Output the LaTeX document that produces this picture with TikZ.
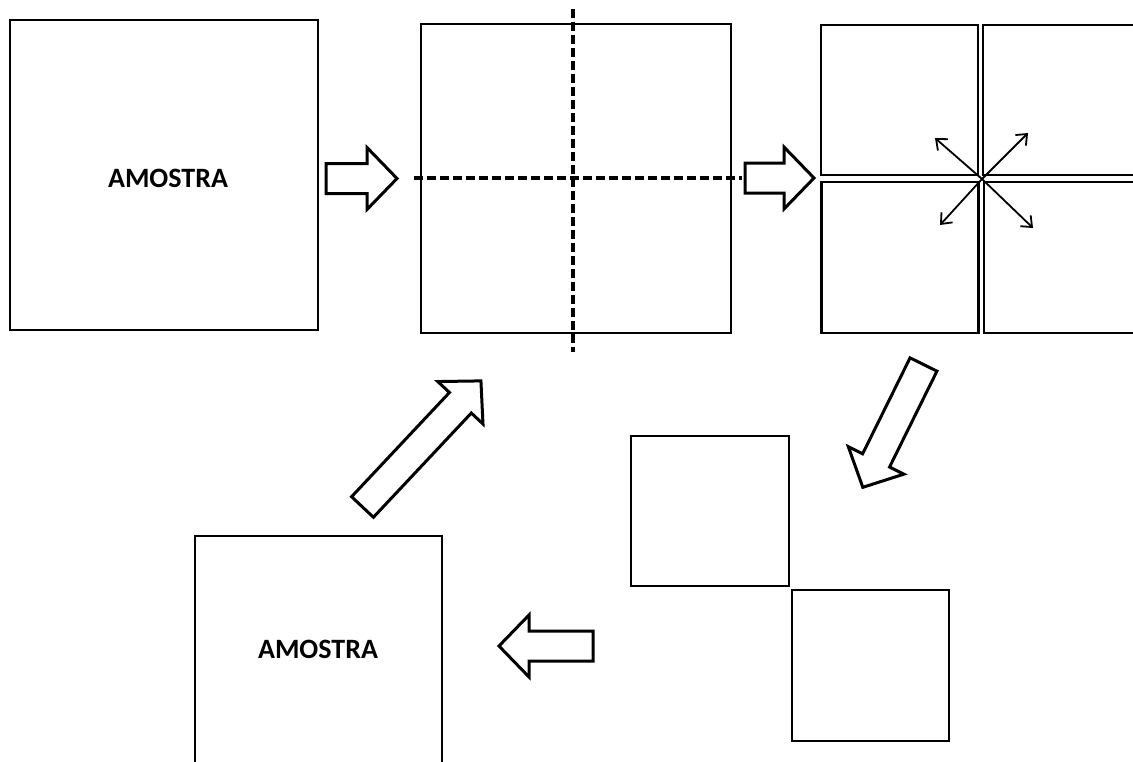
\documentclass[tikz,border=0pt]{standalone}
\usepackage{fontspec}
\setmainfont{Carlito}
\usetikzlibrary{arrows.meta}
\tikzset{
  box/.style={draw, line width=2.2pt, minimum width=#1, inner sep=0pt},
  lbl/.style={font=\bfseries\fontsize{28}{33}\selectfont},
  cutline/.style={line width=3.2pt, dash pattern=on 9pt off 4pt},
  spread/.style={line width=1.8pt, -{Straight Barb[length=9pt,width=15pt,line width=1.8pt]}},
  pics/blockarrow/.style={code={
    \draw[line width=3pt, line join=miter, fill=white]
      (0,-15) -- ({#1-30},-15) -- ({#1-30},-31) -- (#1,0) -- ({#1-30},31) -- ({#1-30},15) -- (0,15) -- cycle;
  }}
}
\begin{document}
\begin{tikzpicture}[x=1pt,y=1pt]
\useasboundingbox (0,0) rectangle (1133,-761);
\clip (0,0) rectangle (1133,-761);
% first sample
\node[box=308pt, minimum height=310pt] (s1) at (164,-175) {};
\node[lbl] (t1) at (168,-178) {AMOSTRA};
\pic (a1) at (326,-178.5) {blockarrow=71};
% cut sample
\node[box=310pt, minimum height=309pt] (s2) at (576,-178.5) {};
\coordinate (hl) at (414,-178);
\coordinate (hr) at (742,-178);
\coordinate (vt) at (573,-9);
\coordinate (vb) at (573,-352);
\draw[cutline] (hl) -- (hr);
\draw[cutline] (vt) -- (vb);
\pic (a2) at (745,-178) {blockarrow=69};
% four quarters
\node[box=157pt, minimum height=150pt] (q1) at (899.5,-100) {};
\node[box=157pt, minimum height=150pt] (q2) at (1061.5,-100) {};
\node[box=157pt, minimum height=151pt] (q3) at (900,-257.5) {};
\node[box=157pt, minimum height=151pt] (q4) at (1062.5,-257.5) {};
\coordinate (c) at (982,-179);
\coordinate (d1) at (935,-138);
\coordinate (d2) at (1028,-133);
\coordinate (d3) at (940,-225);
\coordinate (d4) at (1033,-228);
\draw[spread] (c) -- (d1);
\draw[spread] (c) -- (d2);
\draw[spread] (c) -- (d3);
\draw[spread] (c) -- (d4);
\pic (a3) [rotate=243.7] at (923.5,-364.5) {blockarrow=137};
% two quarters
\node[box=158pt, minimum height=150pt] (p1) at (710,-511) {};
\node[box=157pt, minimum height=151pt] (p2) at (870.5,-665.5) {};
\pic (a4) [rotate=180] at (593,-646) {blockarrow=94};
% reduced sample
\node[box=247pt, minimum height=228pt] (s3) at (318.5,-650) {};
\node[lbl] (t3) at (318,-649) {AMOSTRA};
\pic (a5) [rotate=46.8] at (362.5,-507) {blockarrow=173};
\end{tikzpicture}
\end{document}
